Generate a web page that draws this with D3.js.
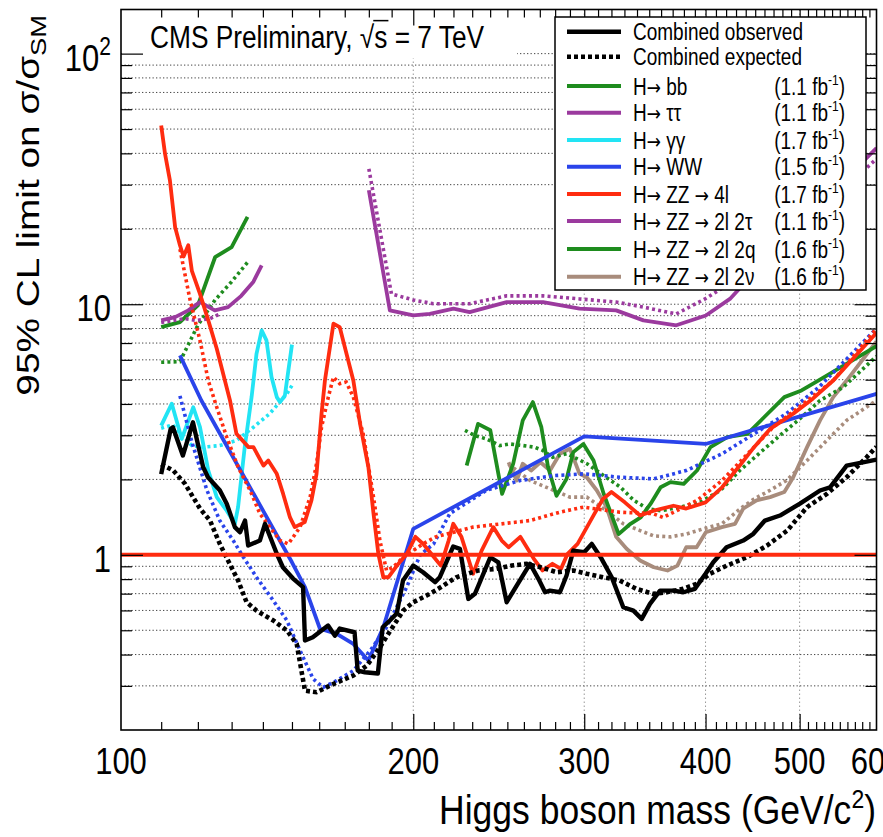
<!DOCTYPE html>
<html><head><meta charset="utf-8">
<script src="https://cdn.jsdelivr.net/npm/d3@7"></script>
<style>
body{margin:0;background:#fff}
svg{display:block}
text{font-family:"Liberation Sans",Arial,Helvetica,sans-serif;fill:#000}
</style>
</head><body><svg id="c" width="883" height="837"></svg>
<script>
// ---------------- data: [mass (GeV), 95% CL limit on sigma/sigma_SM] ----------------
const combObs = [[110,2.1],[112.5,3.18],[113.1,3.23],[115.8,2.49],[118.6,3.38],[121.5,2.24],[122.9,2.04],[126.4,1.81],[128.5,1.6],[131,1.29],[132.6,1.23],[134.2,1.37],[135.2,1.09],[139,1.14],[140.7,1.33],[144.7,1.01],[146.8,0.892],[150.4,0.804],[154,0.743],[154.7,0.455],[157.6,0.469],[163.4,0.522],[166.1,0.476],[168,0.508],[174,0.491],[175.3,0.345],[178.3,0.34],[183.9,0.336],[186,0.514],[189.2,0.547],[192.3,0.583],[195.2,0.79],[200,0.906],[204.7,0.852],[210.6,0.778],[213,0.814],[219.9,1.08],[223.4,1.057],[227.9,0.667],[231.5,0.699],[240.1,0.978],[244.7,0.934],[249.6,0.647],[255.6,0.754],[263.8,0.921],[269.1,0.802],[273.4,0.709],[276.6,0.72],[283.2,0.709],[287.7,0.827],[292.3,1.04],[300,1.024],[305.4,1.106],[312.6,0.964],[320.2,0.814],[329.1,0.618],[337.1,0.599],[343.8,0.555],[350.6,0.637],[359.1,0.72],[370.6,0.72],[379.5,0.709],[390.1,0.732],[400,0.84],[407.4,0.934],[420.5,1.072],[437.4,1.14],[448,1.213],[460.5,1.37],[477.2,1.435],[500.4,1.6],[524.8,1.806],[537.4,1.86],[559,2.27],[572.4,2.31],[600,2.4]];
const combExp = [[110,2.3],[113.2,2.17],[116.4,1.92],[120.6,1.53],[123.5,1.37],[126.4,1.106],[128.9,0.949],[132,0.79],[134.7,0.647],[137.9,0.599],[143.5,0.547],[148.2,0.499],[151.7,0.441],[154.7,0.287],[159,0.283],[165.4,0.305],[173.5,0.33],[179.1,0.361],[184.8,0.428],[189.9,0.506],[195.3,0.599],[200,0.647],[206.4,0.688],[212.2,0.732],[221.5,0.814],[233.2,0.866],[243.6,0.879],[252.6,0.906],[261.7,0.921],[270.4,0.892],[281.2,0.852],[292.3,0.866],[301.8,0.84],[313.8,0.814],[326.3,0.79],[339.4,0.732],[353,0.699],[364.8,0.709],[379.4,0.732],[391.6,0.766],[404.1,0.84],[420.7,0.906],[441.3,0.978],[462.8,1.089],[485.5,1.25],[508.9,1.55],[533.3,1.75],[559,2.04],[586,2.45],[600,2.7]];
const bbObs = [[110,8.1],[115,8.48],[120,9.89],[125,15.4],[130,16.9],[135,22.3]];
const bbExp = [[110,5.87],[115,5.9],[120,8.25],[125,10.4],[130,12.3],[135,14.7]];
const tautauObs = [[110,8.62],[113.7,8.88],[117.3,9.45],[120.6,10.2],[124.9,9.45],[128.9,9.74],[133,10.8],[136.9,12.3],[139.6,14.3]];
const tautauExp = [[110,8.45],[116.4,8.76],[119.6,8.62],[123.5,8.76],[126.4,9.15]];
const ggObs = [[110,3.28],[112.8,4.01],[115.5,2.9],[118.7,3.88],[120.6,3.23],[123,2.17],[125.5,1.7],[128.5,1.5],[131,1.33],[132,1.55],[134.1,2.69],[136.3,4.26],[137.9,6.34],[139.6,7.86],[141.2,7.17],[142.9,5.12],[144.7,4.26],[145.8,4.07],[147.5,4.32],[150,6.9]];
const ggExp = [[110,3.2],[113,3.3],[118.3,2.73],[121.6,2.69],[126.4,2.73],[131.5,2.86],[136.9,3.23],[142.3,3.66],[148.2,4.39],[150,4.74]];
const wwObs = [[115,6.25],[121,4.13],[150,0.934],[154.7,0.743],[160.3,0.507],[166.8,0.484],[173.5,0.441],[179.8,0.379],[186.3,0.514],[200,1.27],[300,2.97],[400,2.77],[600,4.39]];
const wwExp = [[115,4.31],[118.3,2.82],[122.6,1.81],[126.4,1.37],[130.5,1.14],[133.7,0.978],[137.9,0.814],[143.5,0.657],[148.2,0.547],[152.9,0.415],[157.7,0.32],[161.5,0.296],[166.8,0.315],[173.5,0.345],[180.6,0.415],[187.7,0.514],[196.9,0.743],[203.3,1.0],[209.9,1.106],[218.1,1.46],[237.9,1.81],[257.7,1.98],[279,2.07],[300,2.105],[326.3,2.04],[353.8,2.01],[382.1,2.17],[416,2.53],[448.8,3.04],[484.6,3.66],[523.5,4.67],[600,8.0]];
const zz4lObs = [[110,51.7],[111,39.9],[112.3,31.2],[113.7,20.3],[115,17.2],[116,15.5],[117.3,17.2],[118.3,13.6],[120.6,11],[123,8.62],[125.5,6.64],[129.5,4.13],[131.5,3.04],[135.3,2.69],[136.9,2.69],[140.2,2.27],[141.8,2.38],[144.7,2.105],[146.9,1.75],[149.3,1.41],[151,1.29],[154.6,1.35],[157.1,1.65],[159,2.105],[160.9,3.66],[162.2,4.96],[165.5,8.36],[168,8.1],[173.5,4.96],[176.3,3.33],[179.8,2.24],[182,1.46],[184.1,1.01],[186.3,0.814],[188.6,0.814],[192.4,0.906],[197,1.01],[201,1.18],[205,1.1],[210,0.98],[213.5,0.906],[217.5,1.14],[219.9,1.33],[224.2,1.18],[230.5,0.84],[235.2,1.04],[241.8,1.29],[246.7,1.14],[250.7,1.072],[257.8,1.18],[266.2,0.964],[271.7,0.866],[278.2,0.921],[283.9,0.879],[288.4,1.01],[295.3,1.106],[307.4,1.46],[313.6,1.67],[320,1.78],[330.3,1.62],[342.5,1.435],[353.8,1.5],[370.7,1.57],[382.1,1.53],[400,1.62],[416,1.86],[432.6,2.24],[448.8,2.69],[466.2,3.18],[492.5,3.66],[515.9,4.2],[541.5,4.96],[600,7.7]];
const zz4lExp = [[115,16.6],[117.8,10.4],[120.6,7.17],[123,4.96],[125.5,3.88],[128.5,2.95],[132,2.24],[135.8,1.81],[139,1.46],[142.3,1.29],[145.8,1.14],[148.7,1.106],[150.5,1.18],[152.9,1.29],[156.6,1.7],[159,2.31],[160.9,3.23],[163.5,4.26],[165.5,5.12],[168,4.82],[170.6,4.89],[173.5,4.26],[177.6,3.04],[182,1.7],[184.8,1.14],[187.7,0.866],[190.6,0.892],[195.3,0.978],[200,1.04],[204.7,1.106],[211,1.18],[230.4,1.29],[263.7,1.37],[283.1,1.48],[299.3,1.55],[326.3,1.48],[353.1,1.46],[361.7,1.41],[392.2,1.65],[416,1.98],[469.5,3.23],[541.5,4.96],[600,8.0]];
const zz2l2tObs = [[180,28.5],[189.2,9.45],[200,9.02],[208,9.15],[220,9.6],[228.6,9.3],[249.6,10.2],[272.1,10.2],[296.7,9.6],[323.6,9.45],[345.2,8.62],[373.2,8.24],[400.3,9.02],[423.8,10.5],[450,13.5],[500,20],[550,30],[600,42]];
const zz2l2tExp = [[180,34.7],[189.9,11],[200,10.4],[209.8,10.05],[228.6,10.05],[249.6,10.8],[272.1,10.8],[296.7,10.5],[323.6,10.2],[345.2,9.74],[373.2,9.15],[399.5,10.5],[450,14],[500,20],[550,28],[600,38]];
const zz2l2qObs = [[227,2.27],[233.2,3.33],[240.1,3.14],[246.9,1.75],[253.5,2.31],[259.3,3.44],[265.6,4.07],[271,3.23],[275.3,2.24],[280.9,1.72],[287.7,2.01],[292.3,2.57],[299.4,2.77],[306.7,2.38],[314.2,1.75],[325.5,1.21],[334.8,1.33],[343,1.41],[351.2,1.6],[359.6,1.86],[368.1,1.95],[379.8,1.92],[392,2.17],[404.7,2.69],[421.2,2.95],[441.8,3.04],[459.6,3.54],[482.2,4.26],[502.3,4.53],[522.6,4.96],[600,6.8]];
const zz2l2qExp = [[226.1,3.14],[231.5,2.99],[238,2.9],[245.6,2.73],[251.4,2.77],[259.3,2.73],[266.6,2.69],[271.9,2.61],[278.4,2.45],[287.7,2.53],[294.8,2.42],[302,2.31],[314.2,2.07],[327,1.86],[337.4,1.65],[348.3,1.53],[359.6,1.5],[377,1.55],[394.6,1.62],[414.6,1.81],[433.8,2.17],[453.8,2.53],[475,2.95],[502.3,3.54],[524.8,4.13],[554.6,4.67],[600,6.2]];
const zz2l2nObs = [[250.7,2.34],[255.6,1.98],[259.3,2.31],[264.5,2.17],[270.4,2.34],[276.6,2.17],[283.2,2.53],[290,2.65],[296.7,2.105],[301.8,2.04],[309,1.81],[316.3,1.55],[323.6,1.18],[331.7,1.057],[342.5,0.949],[353.8,0.892],[365.5,0.866],[374.2,0.906],[382.1,1.072],[391.6,1.072],[400.3,1.23],[415.8,1.29],[429,1.33],[437.4,1.53],[451.5,1.65],[466.2,1.7],[482.2,1.78],[492.5,2.04],[508.9,2.69],[524.8,3.44],[541.5,4.26],[559,4.96],[600,7.1]];
const zz2l2nExp = [[250.7,2.3],[263.8,1.98],[278.9,1.81],[290,1.7],[301.8,1.7],[316.3,1.5],[329.1,1.33],[342.5,1.25],[353.8,1.19],[368.1,1.18],[382.1,1.21],[397.9,1.27],[415.8,1.33],[436.5,1.55],[448.8,1.67],[466.2,1.81],[484.6,1.98],[508.9,2.38],[533.3,2.86],[559,3.44],[600,4.13]];

const xMajorTicks = [200,300,400,500];
const xTickLabels = [100,200,300,400,500,600];
const xMinorTicks = [110,120,130,140,150,160,170,180,190,210,220,230,240,250,260,270,280,290,310,320,330,340,350,360,370,380,390,410,420,430,440,450,460,470,480,490,510,520,530,540,550,560,570,580,590];
const yMajorTicks = [1,10,100];
const yMinorTicks = [0.3,0.4,0.5,0.6,0.7,0.8,0.9,2,3,4,5,6,7,8,9,20,30,40,50,60,70,80,90];
const yTickLabels = [["1",""],["10",""],["10","2"]];

const legendEntries = [
  {label:"Combined observed", lumi:"", key:"obs"},
  {label:"Combined expected", lumi:"", key:"exp"},
  {label:"H\u2192 bb", lumi:"1.1", key:"bb"},
  {label:"H\u2192 \u03c4\u03c4", lumi:"1.1", key:"tt"},
  {label:"H\u2192 \u03b3\u03b3", lumi:"1.7", key:"gg"},
  {label:"H\u2192 WW", lumi:"1.5", key:"ww"},
  {label:"H\u2192 ZZ \u2192 4l", lumi:"1.7", key:"zz4l"},
  {label:"H\u2192 ZZ \u2192 2l 2\u03c4", lumi:"1.1", key:"zz2l2t"},
  {label:"H\u2192 ZZ \u2192 2l 2q", lumi:"1.6", key:"zz2l2q"},
  {label:"H\u2192 ZZ \u2192 2l 2\u03bd", lumi:"1.6", key:"zz2l2n"}
];

// ---------------- styles ----------------
const col = {obs:"#000", exp:"#000", bb:"#1e8c1e", tt:"#9b3a9e", gg:"#22e4f4", ww:"#2a44ea",
             zz4l:"#ff2c10", zz2l2t:"#9b3a9e", zz2l2q:"#1e8c1e", zz2l2n:"#a88c7c"};
const series = [
  {key:"bb", obs:bbObs, exp:bbExp},
  {key:"tt", obs:tautauObs, exp:tautauExp},
  {key:"zz2l2t", obs:zz2l2tObs, exp:zz2l2tExp},
  {key:"zz2l2n", obs:zz2l2nObs, exp:zz2l2nExp},
  {key:"zz2l2q", obs:zz2l2qObs, exp:zz2l2qExp},
  {key:"gg", obs:ggObs, exp:ggExp},
  {key:"ww", obs:wwObs, exp:wwExp},
  {key:"zz4l", obs:zz4lObs, exp:zz4lExp}
];

const svg = d3.select("#c");
const X0=121, X1=876.5, Y0=730, Y1=9.5;
const x = d3.scaleLog().domain([100,600]).range([X0,X1]);
const y = d3.scaleLog().domain([0.2,150]).range([Y0,Y1]);

svg.append("rect").attr("width",883).attr("height",837).attr("fill","#fff");

// grid
const grid = svg.append("g");
grid.selectAll("line.h").data(yMinorTicks.concat([10,100])).join("line")
  .attr("x1",X0).attr("x2",X1).attr("y1",d=>y(d)).attr("y2",d=>y(d))
  .attr("stroke","#444").attr("stroke-width",1).attr("stroke-dasharray","1.3,2.2");
grid.selectAll("line.v").data(xMajorTicks).join("line")
  .attr("x1",d=>x(d)).attr("x2",d=>x(d)).attr("y1",Y1).attr("y2",Y0)
  .attr("stroke","#999").attr("stroke-width",1).attr("stroke-dasharray","1.5,2.5");

// CMS label white box
svg.append("rect").attr("x",X0+1).attr("y",Y1+1).attr("width",395).attr("height",48).attr("fill","#fff");

// curves
svg.append("clipPath").attr("id","pc").append("rect")
  .attr("x",X0).attr("y",Y1).attr("width",X1-X0).attr("height",Y0-Y1);
const plot = svg.append("g").attr("clip-path","url(#pc)");
const line = d3.line().x(d=>x(d[0])).y(d=>y(d[1]));
series.forEach(s=>{
  plot.append("path").attr("d",line(s.exp)).attr("fill","none").attr("stroke",col[s.key])
    .attr("stroke-width",3.6).attr("stroke-dasharray","3,3.2");
  plot.append("path").attr("d",line(s.obs)).attr("fill","none").attr("stroke",col[s.key])
    .attr("stroke-width",3.8).attr("stroke-linejoin","round");
});
plot.append("path").attr("d",line(combExp)).attr("fill","none").attr("stroke","#000")
  .attr("stroke-width",4.6).attr("stroke-dasharray","4,3");
plot.append("path").attr("d",line(combObs)).attr("fill","none").attr("stroke","#000")
  .attr("stroke-width",4.4).attr("stroke-linejoin","round");
plot.append("line").attr("x1",X0).attr("x2",X1).attr("y1",y(1)).attr("y2",y(1))
  .attr("stroke","#ff2c10").attr("stroke-width",4);

// axes ticks (inward)
function ticks(axis, tr){
  const g = svg.append("g").attr("transform",tr).call(axis);
  g.select(".domain").remove();
  g.selectAll("line").attr("stroke","#000").attr("stroke-width",1.2);
  g.selectAll("text").remove();
}
ticks(d3.axisBottom(x).tickValues(xMinorTicks).tickSize(-8).tickFormat(""), `translate(0,${Y0})`);
ticks(d3.axisBottom(x).tickValues(xMajorTicks).tickSize(-16).tickFormat(""), `translate(0,${Y0})`);
ticks(d3.axisTop(x).tickValues(xMinorTicks).tickSize(-8).tickFormat(""), `translate(0,${Y1})`);
ticks(d3.axisTop(x).tickValues(xMajorTicks).tickSize(-16).tickFormat(""), `translate(0,${Y1})`);
ticks(d3.axisLeft(y).tickValues(yMinorTicks).tickSize(-11).tickFormat(""), `translate(${X0},0)`);
ticks(d3.axisLeft(y).tickValues(yMajorTicks).tickSize(-22).tickFormat(""), `translate(${X0},0)`);
ticks(d3.axisRight(y).tickValues(yMinorTicks).tickSize(-11).tickFormat(""), `translate(${X1},0)`);
ticks(d3.axisRight(y).tickValues(yMajorTicks).tickSize(-22).tickFormat(""), `translate(${X1},0)`);

// frame
svg.append("rect").attr("x",X0).attr("y",Y1).attr("width",X1-X0).attr("height",Y0-Y1)
  .attr("fill","none").attr("stroke","#000").attr("stroke-width",1.6);

// text helper (vertically stretched glyphs like the reference)
function T(xp, yp, size, k, anchor, rot){
  return svg.append("text")
    .attr("transform",`translate(${xp},${yp}) scale(1,${k})`+(rot?" rotate(-90)":""))
    .attr("font-size",size).attr("text-anchor",anchor);
}

// tick labels
xTickLabels.forEach(v=>{ T(x(v),774,31,1.2,"middle").text(v); });
yMajorTicks.forEach((v,i)=>{
  const t = T(111, y(v)+17, 31, 1.2, "end");
  t.append("tspan").text(yTickLabels[i][0]);
  if (yTickLabels[i][1]) t.append("tspan").attr("font-size",21).attr("dy",-13).text(yTickLabels[i][1]);
});

// axis titles
const xt = T(876, 824, 35.5, 1.15, "end");
xt.append("tspan").text("Higgs boson mass (GeV/c");
xt.append("tspan").attr("font-size",23).attr("dy",-14).text("2");
xt.append("tspan").attr("dy",14).text(")");

const yt = T(38.5, 15, 31.3, 1.24, "end", true);
yt.append("tspan").text("95% CL limit on \u03c3/\u03c3");
yt.append("tspan").attr("font-size",22).attr("dy",7).text("SM");

// CMS label
const cms = T(150, 47.5, 26.3, 1.18, "start");
cms.append("tspan").text("CMS Preliminary, \u221a");
cms.append("tspan").text("s");
cms.append("tspan").text(" = 7 TeV");
{
  const node = cms.node();
  const n1 = "CMS Preliminary, \u221a".length;
  const rs = node.getExtentOfChar(n1-1), sc = node.getExtentOfChar(n1);
  const g = svg.append("g").attr("transform","translate(150,47.5) scale(1,1.18)");
  g.append("line").attr("x1",rs.x+rs.width-1).attr("x2",sc.x+sc.width+1)
    .attr("y1",rs.y+1).attr("y2",rs.y+1).attr("stroke","#000").attr("stroke-width",1.3);
}

// legend
const LX0=555, LY0=17, LX1=866, LY1=290;
svg.append("rect").attr("x",LX0).attr("y",LY0).attr("width",LX1-LX0).attr("height",LY1-LY0)
  .attr("fill","#fff").attr("stroke","#000").attr("stroke-width",1.5);
const rowsY = [31.7,56.7,86,112.7,140,166.7,194,221,249,276.7];
legendEntries.forEach((e,i)=>{
  const yy = rowsY[i];
  const l = svg.append("line").attr("x1",567).attr("x2",621).attr("y1",yy).attr("y2",yy)
    .attr("stroke",col[e.key]);
  if (e.key==="exp") l.attr("stroke-width",4.6).attr("stroke-dasharray","4,3");
  else l.attr("stroke-width",e.key==="obs"?4.6:4);
  const t = T(633, yy+8.5, 19, 1.25, "start");
  e.label.split("\u2192").forEach((part,j)=>{
    if (j>0) t.append("tspan").attr("font-family","DejaVu Sans").attr("font-size",17).text("\u2192");
    t.append("tspan").text(part);
  });
  if (e.lumi){
    const tl = T(845, yy+8.5, 19, 1.25, "end");
    tl.append("tspan").text("(" + e.lumi + " fb");
    tl.append("tspan").attr("font-size",12).attr("dy",-8).text("-1");
    tl.append("tspan").attr("dy",8).text(")");
  }
});
</script></body></html>
